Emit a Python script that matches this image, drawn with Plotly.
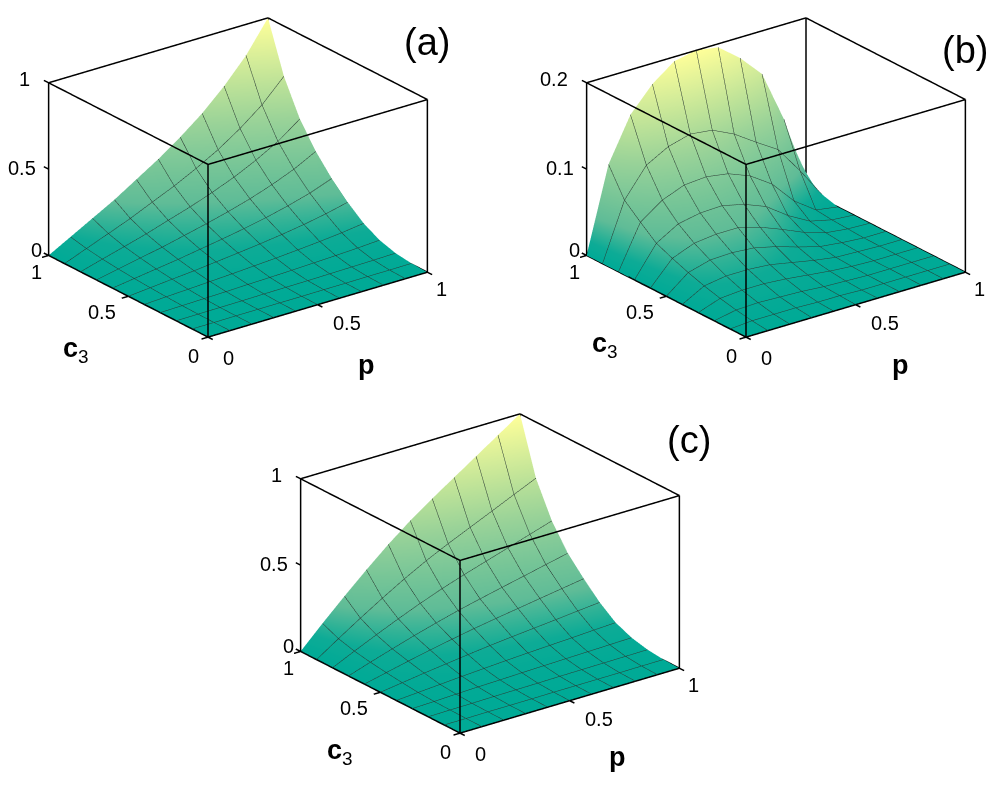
import plotly.graph_objects as go

# the page body keeps its 8px margin, so page pixels are figure pixels + 8
W, H = 986, 782
OFFSET = 8

p_vals = [0, .1, .2, .3, .4, .5, .6, .7, .8, .9, 1]
c3_vals = [0, .1, .2, .3, .4, .5, .6, .7, .8, .9, 1]

# one row per c3 value, one column per p value
z_a = [
    [0] * 11,
    [0, 0, .001, .001, .001, .001, .002, .002, .003, .003, .004],
    [0, .001, .002, .003, .005, .006, .007, .009, .011, .013, .016],
    [0, .003, .006, .009, .013, .016, .02, .025, .03, .036, .044],
    [0, .007, .013, .02, .027, .035, .043, .053, .064, .077, .094],
    [0, .012, .024, .035, .049, .063, .078, .095, .115, .139, .169],
    [0, .018, .036, .054, .075, .096, .119, .145, .176, .212, .259],
    [0, .026, .052, .077, .107, .137, .17, .207, .251, .303, .369],
    [0, .036, .071, .107, .148, .188, .234, .285, .346, .417, .509],
    [0, .05, .099, .149, .206, .262, .326, .397, .482, .581, .709],
    [0, .07, .14, .21, .29, .37, .46, .56, .68, .82, 1],
]
z_b = [
    [0] * 11,
    [0, .002, .002, .002, .001, .001, 0, 0, 0, 0, 0],
    [0, .005, .006, .005, .004, .002, .001, 0, 0, 0, 0],
    [0, .009, .011, .011, .009, .006, .003, .001, 0, 0, 0],
    [0, .014, .018, .018, .016, .011, .006, .002, .001, 0, 0],
    [0, .02, .027, .028, .026, .02, .012, .005, .002, 0, 0],
    [0, .027, .037, .04, .04, .033, .023, .012, .004, .001, 0],
    [0, .035, .05, .055, .056, .05, .04, .022, .008, .002, 0],
    [0, .05, .068, .078, .08, .076, .066, .049, .022, .004, 0],
    [0, .066, .099, .113, .12, .117, .105, .088, .072, .04, .005],
    [0, .098, .148, .176, .195, .2, .196, .176, .15, .09, .01],
]
z_c = [
    [0] * 11,
    [0, 0, .001, .001, .001, .002, .002, .002, .002, .003, .003],
    [0, .002, .003, .005, .006, .007, .009, .01, .011, .012, .013],
    [0, .004, .009, .013, .016, .02, .023, .026, .029, .032, .035],
    [0, .009, .018, .027, .035, .043, .05, .056, .062, .069, .075],
    [0, .018, .036, .052, .068, .083, .096, .108, .12, .133, .145],
    [0, .029, .058, .085, .11, .134, .155, .175, .195, .215, .235],
    [0, .042, .082, .121, .157, .191, .221, .25, .278, .307, .335],
    [0, .059, .116, .171, .223, .271, .314, .354, .394, .435, .475],
    [0, .084, .165, .243, .317, .385, .446, .503, .56, .618, .675],
    [0, .125, .245, .36, .47, .57, .66, .745, .83, .915, 1],
]

colorscale = [[0, "#00AA96"], [.07, "#0EAB96"], [.2, "#5FBC97"], [.5, "#98D298"], [1, "#FFFF99"]]
PAD = .03
EYE = 3
# plotly sizes the orthographic view by the scene height
DOM_H = 335
FIT = 364 / DOM_H


def box_lines(zmax):
    """Twelve box edges plus the tick stubs, as one broken line"""
    zmid = zmax / 2
    xs, ys, zs = [], [], []

    def seg(a, b):
        xs.extend([a[0], b[0], None])
        ys.extend([a[1], b[1], None])
        zs.extend([a[2], b[2], None])

    for z in (0, zmax):
        seg((0, 0, z), (1, 0, z))
        seg((0, 0, z), (0, 1, z))
        seg((1, 1, z), (1, 0, z))
        seg((1, 1, z), (0, 1, z))
    for x, y in ((0, 0), (1, 0), (0, 1), (1, 1)):
        seg((x, y, 0), (x, y, zmax))
    for z in (0, zmid, zmax):
        seg((0, 1, z), (0, 1 + PAD, z))
    for t in (0, .5, 1):
        seg((t, 0, 0), (t, -PAD, 0))
        seg((0, t, 0), (-PAD, t, 0))
    return xs, ys, zs


def add_panel(fig, name, z, zmax, zticks, dom_x, dom_y):
    fig.add_trace(go.Surface(
        x=p_vals, y=c3_vals, z=z, scene=name, cmin=0, cmax=zmax,
        colorscale=colorscale, showscale=False, hoverinfo="skip",
        lighting=dict(ambient=1, diffuse=0, specular=0, fresnel=0),
        contours=dict(
            x=dict(show=True, start=0, end=1, size=.1, color="#2a3a33", width=1, highlight=False),
            y=dict(show=True, start=0, end=1, size=.1, color="#2a3a33", width=1, highlight=False),
            z=dict(highlight=False),
        ),
    ))
    xs, ys, zs = box_lines(zmax)
    fig.add_trace(go.Scatter3d(
        x=xs, y=ys, z=zs, scene=name, mode="lines",
        line=dict(color="black", width=3), showlegend=False, hoverinfo="skip",
    ))

    font = dict(family="Liberation Sans, Arial", size=20, color="black")
    ann = []
    for val, txt, dx, dy in zip((0, zmax / 2, zmax), zticks, (-5, -11, -17), (5, 1, 4)):
        ann.append(dict(x=0, y=1, z=val, text=txt, xshift=dx, yshift=dy, xanchor="right"))
    for val, txt, dx, dy in zip((0, .5, 1), ("0", "0.5", "1"), (-15, -26, -12), (-19, -16, -17)):
        ann.append(dict(x=0, y=val, z=0, text=txt, xshift=dx, yshift=dy))
    for val, txt, dx, dy in zip((0, .5, 1), ("0", "0.5", "1"), (20, 29, 14), (-21, -18, -17)):
        ann.append(dict(x=val, y=0, z=0, text=txt, xshift=dx, yshift=dy))
    for a in ann:
        a.update(showarrow=False, font=font)

    hidden = dict(visible=False, showspikes=False)
    fig.update_layout({name: dict(
        domain=dict(x=[dom_x[0] / W, dom_x[1] / W], y=[1 - dom_y[1] / H, 1 - dom_y[0] / H]),
        xaxis=dict(range=[-PAD, 1 + PAD], **hidden),
        yaxis=dict(range=[-PAD, 1 + PAD], **hidden),
        zaxis=dict(range=[0, zmax], **hidden),
        aspectmode="manual",
        aspectratio=dict(x=1.514 * FIT * (1 + 2 * PAD), y=1.448 * FIT * (1 + 2 * PAD), z=1.03 * FIT),
        camera=dict(
            projection=dict(type="orthographic"),
            center=dict(x=0, y=0, z=0),
            up=dict(x=0, y=0, z=1),
            eye=dict(x=-.557 * EYE, y=-.733 * EYE, z=.389 * EYE),
        ),
        annotations=ann,
        bgcolor="rgba(0,0,0,0)",
    )})


fig = go.Figure()
add_panel(fig, "scene", z_a, 1, ("0", "0.5", "1"), (0, 460), (2, 2 + DOM_H))
add_panel(fig, "scene2", z_b, .2, ("0", "0.1", "0.2"), (550, 986), (2, 2 + DOM_H))
add_panel(fig, "scene3", z_c, 1, ("0", "0.5", "1"), (252, 712), (398, 398 + DOM_H))

# panel letters and axis names, placed in page pixels
labels = [
    ("(a)", 427, 42, 38), ("(b)", 965, 50, 38), ("(c)", 689, 440, 38),
    ("<b>p</b>", 366, 365, 27), ("<b>p</b>", 900, 365, 27), ("<b>p</b>", 617, 757, 27),
    ("<b>c</b><sub>3</sub>", 76, 350, 27), ("<b>c</b><sub>3</sub>", 605, 345, 27),
    ("<b>c</b><sub>3</sub>", 340, 752, 27),
]
for text, x, y, size in labels:
    fig.add_annotation(
        text=text, x=(x - OFFSET) / W, y=1 - (y - OFFSET) / H, xref="paper", yref="paper",
        showarrow=False, xanchor="center", yanchor="middle",
        font=dict(family="Liberation Sans, Arial", size=size, color="black"),
    )

fig.update_layout(
    width=W, height=H, margin=dict(l=0, r=0, t=0, b=0, autoexpand=False),
    paper_bgcolor="white", showlegend=False,
)
fig.write_html("out.html")
